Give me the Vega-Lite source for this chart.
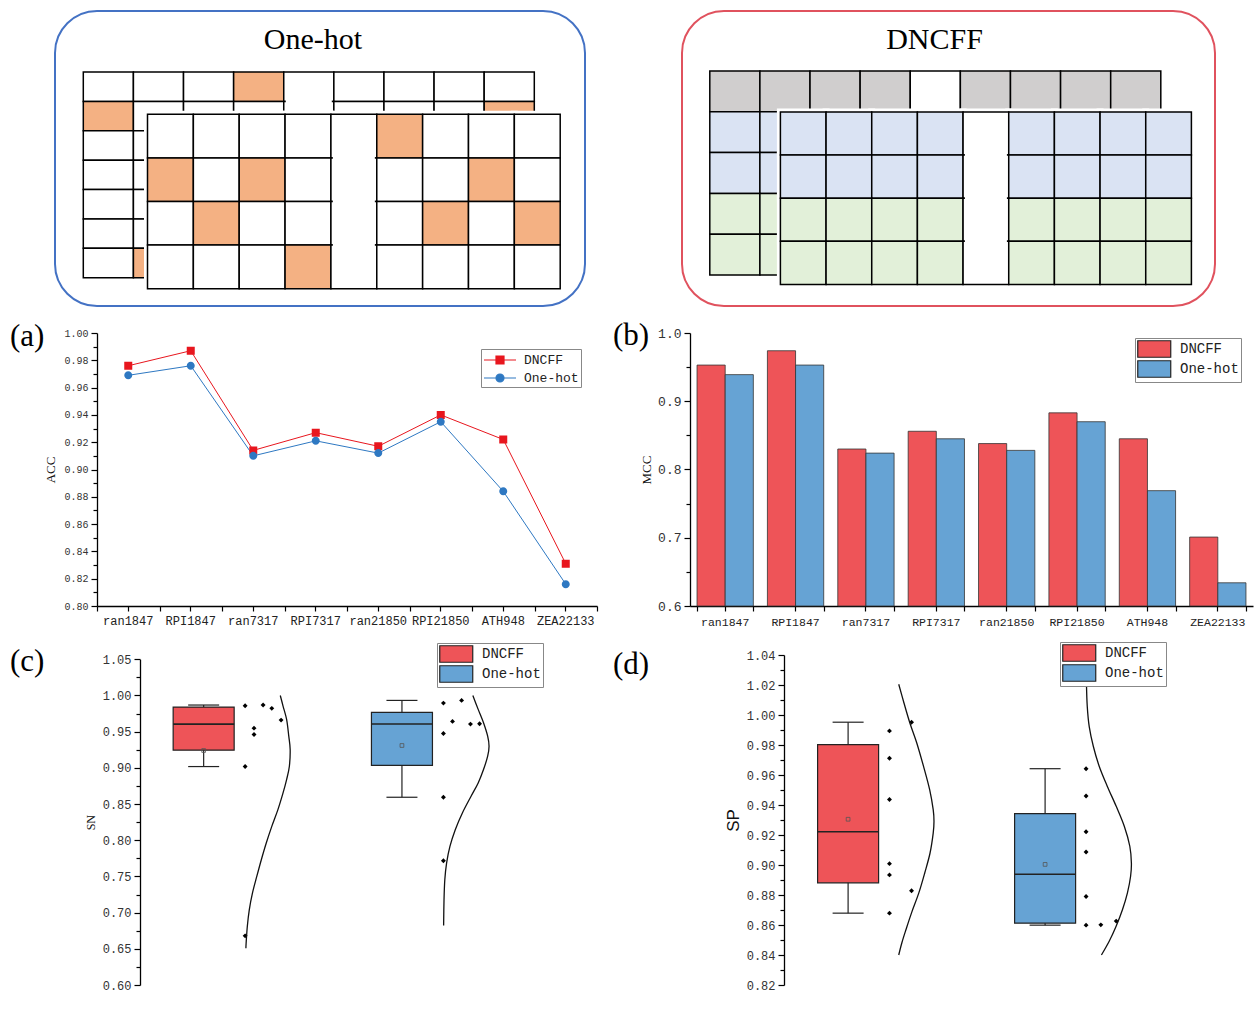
{
"$schema": "https://vega.github.io/schema/vega-lite/v6.json",
"padding": {"left": 10, "top": 10, "right": 2, "bottom": 2},
"background": "white",
"config": {
  "view": {"stroke": null},
  "font": "Liberation Serif",
  "axis": {"grid": false, "domainColor": "#000", "domainWidth": 1.3, "tickColor": "#000", "tickWidth": 1.2, "labelFont": "Liberation Mono", "labelColor": "#333", "titleFont": "Liberation Serif", "titleFontWeight": "normal", "titleColor": "#111"},
  "title": {"font": "Liberation Serif", "fontWeight": "normal", "color": "#000"}
},
"datasets": {
  "ohBack": [
    {"r":1,"c":[1,2,3,4,5,6,7,8,9],"v":["0","0","0","1","g","0","0","0","0"]},
    {"r":2,"c":[1,2,3,4,5,6,7,8,9],"v":["1","0","0","0","g","0","0","0","1"]},
    {"r":3,"c":[1,2,3,4,5,6,7,8,9],"v":["0","0","1","0","g","0","0","0","0"]},
    {"r":4,"c":[1,2,3,4,5,6,7,8,9],"v":["0","0","0","0","g","1","0","0","0"]},
    {"r":5,"c":[1,2,3,4,5,6,7,8,9],"v":["0","0","0","0","g","0","1","0","0"]},
    {"r":6,"c":[1,2,3,4,5,6,7,8,9],"v":["0","0","0","0","g","0","0","1","0"]},
    {"r":7,"c":[1,2,3,4,5,6,7,8,9],"v":["0","1","0","0","g","0","0","0","0"]}
  ],
  "ohFront": [
    {"r":1,"c":[1,2,3,4,5,6,7,8,9],"v":["0","0","0","0","g","1","0","0","0"]},
    {"r":2,"c":[1,2,3,4,5,6,7,8,9],"v":["1","0","1","0","g","0","0","1","0"]},
    {"r":3,"c":[1,2,3,4,5,6,7,8,9],"v":["0","1","0","0","g","0","1","0","1"]},
    {"r":4,"c":[1,2,3,4,5,6,7,8,9],"v":["0","0","0","1","g","0","0","0","0"]}
  ],
  "dnBack": [
    {"r":1,"c":[1,2,3,4,5,6,7,8,9],"v":["k","k","k","k","g","k","k","k","k"]},
    {"r":2,"c":[1,2,3,4,5,6,7,8,9],"v":["b","b","b","b","g","b","b","b","b"]},
    {"r":3,"c":[1,2,3,4,5,6,7,8,9],"v":["b","b","b","b","g","b","b","b","b"]},
    {"r":4,"c":[1,2,3,4,5,6,7,8,9],"v":["n","n","n","n","g","n","n","n","n"]},
    {"r":5,"c":[1,2,3,4,5,6,7,8,9],"v":["n","n","n","n","g","n","n","n","n"]}
  ],
  "dnFront": [
    {"r":1,"c":[1,2,3,4,5,6,7,8,9],"v":["b","b","b","b","g","b","b","b","b"]},
    {"r":2,"c":[1,2,3,4,5,6,7,8,9],"v":["b","b","b","b","g","b","b","b","b"]},
    {"r":3,"c":[1,2,3,4,5,6,7,8,9],"v":["n","n","n","n","g","n","n","n","n"]},
    {"r":4,"c":[1,2,3,4,5,6,7,8,9],"v":["n","n","n","n","g","n","n","n","n"]}
  ],
  "acc": [
    {"ds":"ran1847","method":"DNCFF","v":0.976},{"ds":"RPI1847","method":"DNCFF","v":0.987},{"ds":"ran7317","method":"DNCFF","v":0.914},{"ds":"RPI7317","method":"DNCFF","v":0.927},
    {"ds":"ran21850","method":"DNCFF","v":0.917},{"ds":"RPI21850","method":"DNCFF","v":0.940},{"ds":"ATH948","method":"DNCFF","v":0.922},{"ds":"ZEA22133","method":"DNCFF","v":0.831},
    {"ds":"ran1847","method":"One-hot","v":0.969},{"ds":"RPI1847","method":"One-hot","v":0.976},{"ds":"ran7317","method":"One-hot","v":0.910},{"ds":"RPI7317","method":"One-hot","v":0.921},
    {"ds":"ran21850","method":"One-hot","v":0.912},{"ds":"RPI21850","method":"One-hot","v":0.935},{"ds":"ATH948","method":"One-hot","v":0.884},{"ds":"ZEA22133","method":"One-hot","v":0.816}
  ],
  "mcc": [
    {"ds":"ran1847","method":"DNCFF","v":0.953},{"ds":"RPI1847","method":"DNCFF","v":0.974},{"ds":"ran7317","method":"DNCFF","v":0.830},{"ds":"RPI7317","method":"DNCFF","v":0.856},
    {"ds":"ran21850","method":"DNCFF","v":0.838},{"ds":"RPI21850","method":"DNCFF","v":0.883},{"ds":"ATH948","method":"DNCFF","v":0.845},{"ds":"ZEA22133","method":"DNCFF","v":0.701},
    {"ds":"ran1847","method":"One-hot","v":0.939},{"ds":"RPI1847","method":"One-hot","v":0.953},{"ds":"ran7317","method":"One-hot","v":0.824},{"ds":"RPI7317","method":"One-hot","v":0.845},
    {"ds":"ran21850","method":"One-hot","v":0.828},{"ds":"RPI21850","method":"One-hot","v":0.870},{"ds":"ATH948","method":"One-hot","v":0.769},{"ds":"ZEA22133","method":"One-hot","v":0.634}
  ],
  "box": [
    {"m":"SN","method":"DNCFF","xc":0.797,"lo":0.9018,"q1":0.9245,"med":0.9605,"q3":0.984,"hi":0.9868,"mean":0.924},
    {"m":"SN","method":"One-hot","xc":1.801,"lo":0.8594,"q1":0.9035,"med":0.9607,"q3":0.9766,"hi":0.9932,"mean":0.9309},
    {"m":"SP","method":"DNCFF","xc":0.8,"lo":0.8679,"q1":0.8881,"med":0.9222,"q3":0.9803,"hi":0.9952,"mean":0.9305},
    {"m":"SP","method":"One-hot","xc":1.8,"lo":0.8599,"q1":0.8612,"med":0.8938,"q3":0.9342,"hi":0.9642,"mean":0.9004}
  ],
  "pts": [
    {"m":"SN","method":"DNCFF","x":[1.007,1.098,1.142,1.189,1.052,1.052,1.007,1.007],"v":[0.9858,0.9868,0.9822,0.966,0.9549,0.9462,0.9018,0.6679]},
    {"m":"SN","method":"One-hot","x":[2.011,2.103,2.057,2.148,2.194,2.011,2.011,2.011],"v":[0.9895,0.9932,0.9642,0.9605,0.9609,0.9475,0.8594,0.7717]},
    {"m":"SP","method":"DNCFF","x":[1.01,1.01,1.01,1.01,1.01,1.01,1.122,1.122],"v":[0.9894,0.9712,0.9437,0.9009,0.8934,0.8679,0.9952,0.8828]},
    {"m":"SP","method":"One-hot","x":[2.008,2.008,2.008,2.008,2.008,2.008,2.083,2.161],"v":[0.9642,0.946,0.9222,0.9087,0.879,0.8599,0.8601,0.8626]}
  ],
  "crv": [
    {"m":"SN","method":"DNCFF","x":[1.185,1.199,1.217,1.228,1.235,1.231,1.217,1.199,1.173,1.142,1.114,1.089,1.066,1.044,1.028,1.018,1.012,1.011],"v":[1.0,0.9854,0.9669,0.9438,0.9254,0.9023,0.8838,0.8654,0.8423,0.8192,0.7962,0.7731,0.75,0.7269,0.7038,0.6808,0.6577,0.6508]},
    {"m":"SN","method":"One-hot","x":[2.16,2.187,2.214,2.235,2.242,2.235,2.214,2.187,2.151,2.107,2.071,2.044,2.027,2.018,2.014,2.012],"v":[1.0,0.9808,0.9623,0.9438,0.93,0.9162,0.8977,0.8792,0.8608,0.8377,0.8146,0.7915,0.7685,0.7454,0.7177,0.6822]},
    {"m":"SP","method":"DNCFF","x":[1.057,1.084,1.114,1.149,1.183,1.214,1.232,1.236,1.232,1.216,1.189,1.159,1.122,1.094,1.073,1.057],"v":[1.0205,1.0078,0.9945,0.9812,0.9657,0.9502,0.9369,0.9291,0.9213,0.908,0.8947,0.8814,0.8681,0.857,0.8482,0.84]},
    {"m":"SP","method":"One-hot","x":[2.01,2.014,2.024,2.045,2.075,2.116,2.161,2.202,2.23,2.238,2.234,2.218,2.193,2.161,2.126,2.086],"v":[1.0205,1.0057,0.9923,0.979,0.9657,0.9524,0.9391,0.9258,0.9125,0.9014,0.8925,0.8814,0.8703,0.8593,0.8493,0.84]}
  ]
},
"spacing": 12,
"resolve": {"scale": {"color": "independent", "fill": "independent", "stroke": "independent", "shape": "independent"}, "legend": {"color": "independent", "fill": "independent", "stroke": "independent", "shape": "independent"}},
"vconcat": [
 {"spacing": 95,
  "resolve": {"scale": {"color": "independent", "fill": "independent", "stroke": "independent", "shape": "independent"}, "legend": {"color": "independent", "fill": "independent", "stroke": "independent", "shape": "independent"}},
  "hconcat": [
  {
   "width": 530, "height": 295,
   "view": {"fill": "white", "stroke": "#4472C4", "strokeWidth": 2, "cornerRadius": 42},
   "title": {"text": "One-hot", "fontSize": 30, "anchor": "middle", "frame": "group", "offset": 0, "dx": -7, "dy": 44},
   "layer": [
    {"data": {"name": "ohBack"}, "transform": [{"flatten": ["c", "v"]}],
     "mark": {"type": "rect", "stroke": "#000", "strokeWidth": 1.5},
     "encoding": {
      "x": {"field": "c", "type": "ordinal", "scale": {"type": "band", "domain": [1,2,3,4,5,6,7,8,9], "range": [28.3, 479.3], "paddingInner": 0, "paddingOuter": 0}, "axis": null},
      "y": {"field": "r", "type": "ordinal", "scale": {"type": "band", "domain": [1,2,3,4,5,6,7], "range": [61, 266.7], "paddingInner": 0, "paddingOuter": 0}, "axis": null},
      "fill": {"field": "v", "type": "nominal", "scale": {"domain": ["0","1","g"], "range": ["#ffffff","#F4B183","#ffffff"]}, "legend": null}}},
    {"data": {"name": "ohBack"}, "transform": [{"flatten": ["c", "v"]}, {"filter": "datum.v === 'g' && datum.r > 1"}],
     "mark": {"type": "point", "shape": "square", "filled": true, "color": "#ffffff", "strokeWidth": 0, "size": 2116, "opacity": 1},
     "encoding": {
      "x": {"field": "c", "type": "ordinal", "scale": {"type": "band", "domain": [1,2,3,4,5,6,7,8,9], "range": [28.3, 479.3], "paddingInner": 0, "paddingOuter": 0}, "axis": null},
      "y": {"field": "r", "type": "ordinal", "bandPosition": 0, "scale": {"type": "band", "domain": [1,2,3,4,5,6,7], "range": [61, 266.7], "paddingInner": 0, "paddingOuter": 0}, "axis": null}}},
    {"data": {"name": "ohFront"}, "transform": [{"flatten": ["c", "v"]}],
     "mark": {"type": "rect", "fill": "#ffffff", "stroke": "#ffffff", "strokeWidth": 7},
     "encoding": {
      "x": {"field": "c", "type": "ordinal", "scale": {"type": "band", "domain": [1,2,3,4,5,6,7,8,9], "range": [92.5, 505.2], "paddingInner": 0, "paddingOuter": 0}, "axis": null},
      "y": {"field": "r", "type": "ordinal", "scale": {"type": "band", "domain": [1,2,3,4], "range": [103.3, 277.7], "paddingInner": 0, "paddingOuter": 0}, "axis": null}}},
    {"data": {"name": "ohFront"}, "transform": [{"flatten": ["c", "v"]}],
     "mark": {"type": "rect", "stroke": "#000", "strokeWidth": 1.5},
     "encoding": {
      "x": {"field": "c", "type": "ordinal", "scale": {"type": "band", "domain": [1,2,3,4,5,6,7,8,9], "range": [92.5, 505.2], "paddingInner": 0, "paddingOuter": 0}, "axis": null},
      "y": {"field": "r", "type": "ordinal", "scale": {"type": "band", "domain": [1,2,3,4], "range": [103.3, 277.7], "paddingInner": 0, "paddingOuter": 0}, "axis": null},
      "fill": {"field": "v", "type": "nominal", "scale": {"domain": ["0","1","g"], "range": ["#ffffff","#F4B183","#ffffff"]}, "legend": null}}},
    {"data": {"name": "ohFront"}, "transform": [{"flatten": ["c", "v"]}, {"filter": "datum.v === 'g' && datum.r > 1"}],
     "mark": {"type": "point", "shape": "square", "filled": true, "color": "#ffffff", "strokeWidth": 0, "size": 1764, "opacity": 1},
     "encoding": {
      "x": {"field": "c", "type": "ordinal", "scale": {"type": "band", "domain": [1,2,3,4,5,6,7,8,9], "range": [92.5, 505.2], "paddingInner": 0, "paddingOuter": 0}, "axis": null},
      "y": {"field": "r", "type": "ordinal", "bandPosition": 0, "scale": {"type": "band", "domain": [1,2,3,4], "range": [103.3, 277.7], "paddingInner": 0, "paddingOuter": 0}, "axis": null}}}
   ],
   "resolve": {"scale": {"x": "independent", "y": "independent"}}
  },
  {
   "width": 533, "height": 295,
   "view": {"fill": "white", "stroke": "#E0525E", "strokeWidth": 2, "cornerRadius": 42},
   "title": {"text": "DNCFF", "fontSize": 30, "anchor": "middle", "frame": "group", "offset": 0, "dx": -14, "dy": 44},
   "layer": [
    {"data": {"name": "dnBack"}, "transform": [{"flatten": ["c", "v"]}],
     "mark": {"type": "rect", "stroke": "#000", "strokeWidth": 1.5},
     "encoding": {
      "x": {"field": "c", "type": "ordinal", "scale": {"type": "band", "domain": [1,2,3,4,5,6,7,8,9], "range": [27.8, 478.8], "paddingInner": 0, "paddingOuter": 0}, "axis": null},
      "y": {"field": "r", "type": "ordinal", "scale": {"type": "band", "domain": [1,2,3,4,5], "range": [60, 264], "paddingInner": 0, "paddingOuter": 0}, "axis": null},
      "fill": {"field": "v", "type": "nominal", "scale": {"domain": ["k","b","n","g"], "range": ["#D0CECE","#DAE3F3","#E2F0D9","#ffffff"]}, "legend": null}}},
    {"data": {"name": "dnBack"}, "transform": [{"flatten": ["c", "v"]}, {"filter": "datum.v === 'g' && datum.r > 1"}],
     "mark": {"type": "point", "shape": "square", "filled": true, "color": "#ffffff", "strokeWidth": 0, "size": 2116, "opacity": 1},
     "encoding": {
      "x": {"field": "c", "type": "ordinal", "scale": {"type": "band", "domain": [1,2,3,4,5,6,7,8,9], "range": [27.8, 478.8], "paddingInner": 0, "paddingOuter": 0}, "axis": null},
      "y": {"field": "r", "type": "ordinal", "bandPosition": 0, "scale": {"type": "band", "domain": [1,2,3,4,5], "range": [60, 264], "paddingInner": 0, "paddingOuter": 0}, "axis": null}}},
    {"data": {"name": "dnFront"}, "transform": [{"flatten": ["c", "v"]}],
     "mark": {"type": "rect", "fill": "#ffffff", "stroke": "#ffffff", "strokeWidth": 7},
     "encoding": {
      "x": {"field": "c", "type": "ordinal", "scale": {"type": "band", "domain": [1,2,3,4,5,6,7,8,9], "range": [98.4, 509.4], "paddingInner": 0, "paddingOuter": 0}, "axis": null},
      "y": {"field": "r", "type": "ordinal", "scale": {"type": "band", "domain": [1,2,3,4], "range": [101, 273.4], "paddingInner": 0, "paddingOuter": 0}, "axis": null}}},
    {"data": {"name": "dnFront"}, "transform": [{"flatten": ["c", "v"]}],
     "mark": {"type": "rect", "stroke": "#000", "strokeWidth": 1.5},
     "encoding": {
      "x": {"field": "c", "type": "ordinal", "scale": {"type": "band", "domain": [1,2,3,4,5,6,7,8,9], "range": [98.4, 509.4], "paddingInner": 0, "paddingOuter": 0}, "axis": null},
      "y": {"field": "r", "type": "ordinal", "scale": {"type": "band", "domain": [1,2,3,4], "range": [101, 273.4], "paddingInner": 0, "paddingOuter": 0}, "axis": null},
      "fill": {"field": "v", "type": "nominal", "scale": {"domain": ["k","b","n","g"], "range": ["#D0CECE","#DAE3F3","#E2F0D9","#ffffff"]}, "legend": null}}},
    {"data": {"name": "dnFront"}, "transform": [{"flatten": ["c", "v"]}, {"filter": "datum.v === 'g' && datum.r > 1"}],
     "mark": {"type": "point", "shape": "square", "filled": true, "color": "#ffffff", "strokeWidth": 0, "size": 1764, "opacity": 1},
     "encoding": {
      "x": {"field": "c", "type": "ordinal", "scale": {"type": "band", "domain": [1,2,3,4,5,6,7,8,9], "range": [98.4, 509.4], "paddingInner": 0, "paddingOuter": 0}, "axis": null},
      "y": {"field": "r", "type": "ordinal", "bandPosition": 0, "scale": {"type": "band", "domain": [1,2,3,4], "range": [101, 273.4], "paddingInner": 0, "paddingOuter": 0}, "axis": null}}}
   ],
   "resolve": {"scale": {"x": "independent", "y": "independent"}}
  }
 ]},
 {"spacing": 13,
  "resolve": {"scale": {"color": "independent", "fill": "independent", "stroke": "independent", "shape": "independent"}, "legend": {"color": "independent", "fill": "independent", "stroke": "independent", "shape": "independent"}},
  "vconcat": [
  {"spacing": 15,
   "resolve": {"scale": {"color": "independent", "fill": "independent", "stroke": "independent", "shape": "independent"}, "legend": {"color": "independent", "fill": "independent", "stroke": "independent", "shape": "independent"}},
   "hconcat": [
   {
    "width": 542, "height": 273,
    "title": {"text": "(a)", "fontSize": 31, "anchor": "start", "frame": "group", "offset": 0, "dx": -45, "dy": 24.5},
    "data": {"name": "acc"},
    "layer": [
     {"mark": {"type": "line", "strokeWidth": 1},
      "encoding": {
       "x": {"field": "ds", "type": "nominal", "sort": ["ran1847","RPI1847","ran7317","RPI7317","ran21850","RPI21850","ATH948","ZEA22133"], "scale": {"type": "band", "range": [42, 542], "paddingInner": 0, "paddingOuter": 0},
             "axis": {"orient": "bottom", "tickBand": "center", "labelFontSize": 12, "labelPadding": 4, "tickSize": 5, "title": null, "labelAngle": 0, "labelOverlap": false, "labelColor": "#222"}},
       "y": {"field": "v", "type": "quantitative", "scale": {"domain": [0.8, 1.0], "zero": false, "nice": false},
             "axis": {"orient": "left", "offset": -42, "values": [0.8,0.82,0.84,0.86,0.88,0.9,0.92,0.94,0.96,0.98,1.0], "format": ".2f", "labelFontSize": 10, "tickSize": 6, "labelPadding": 3, "title": "ACC", "titleFontSize": 13, "titlePadding": 6}},
       "color": {"field": "method", "type": "nominal", "scale": {"domain": ["DNCFF","One-hot"], "range": ["#E8161E","#2E78C2"]},
                 "legend": {"orient": "none", "legendX": 426, "legendY": 16, "title": null, "labelFont": "Liberation Mono", "labelFontSize": 13, "labelColor": "#222", "strokeColor": "#888", "fillColor": "#fff", "padding": 2, "symbolSize": 256, "symbolOpacity": 1, "symbolOffset": 8, "labelOffset": 15, "rowPadding": 2,
                            "encode": {"symbols": {"update": {"stroke": {"signal": "datum.value === 'DNCFF' ? '#E8161E' : '#2E78C2'"}, "fill": {"signal": "datum.value === 'DNCFF' ? '#E8161E' : '#2E78C2'"}, "strokeWidth": {"value": 1.2}, "opacity": {"value": 1}}}}}}}},
     {"mark": {"type": "point", "filled": true, "opacity": 1, "size": 256},
      "encoding": {
       "x": {"field": "ds", "type": "nominal", "sort": ["ran1847","RPI1847","ran7317","RPI7317","ran21850","RPI21850","ATH948","ZEA22133"], "scale": {"type": "band", "range": [42, 542], "paddingInner": 0, "paddingOuter": 0}, "axis": null},
       "y": {"field": "v", "type": "quantitative", "scale": {"domain": [0.8, 1.0], "zero": false, "nice": false}, "axis": null},
       "color": {"field": "method", "type": "nominal", "scale": {"domain": ["DNCFF","One-hot"], "range": ["#E8161E","#2E78C2"]},
                 "legend": {"orient": "none", "legendX": 426, "legendY": 16, "title": null, "labelFont": "Liberation Mono", "labelFontSize": 13, "labelColor": "#222", "strokeColor": "#888", "fillColor": "#fff", "padding": 2, "symbolSize": 256, "symbolOpacity": 1, "symbolOffset": 8, "labelOffset": 15, "rowPadding": 2,
                            "encode": {"symbols": {"update": {"stroke": {"signal": "datum.value === 'DNCFF' ? '#E8161E' : '#2E78C2'"}, "fill": {"signal": "datum.value === 'DNCFF' ? '#E8161E' : '#2E78C2'"}, "strokeWidth": {"value": 1.2}, "opacity": {"value": 1}}}}}},
       "shape": {"field": "method", "type": "nominal", "scale": {"domain": ["DNCFF","One-hot"], "range": ["M-2,0H2M-0.5,-0.5H0.5V0.5H-0.5Z", "M-2,0H2M0.5,0A0.5,0.5,0,1,1,-0.5,0A0.5,0.5,0,1,1,0.5,0Z"]},
                 "legend": {"orient": "none", "legendX": 426, "legendY": 16, "title": null, "labelFont": "Liberation Mono", "labelFontSize": 13, "labelColor": "#222", "strokeColor": "#888", "fillColor": "#fff", "padding": 2, "symbolSize": 256, "symbolOpacity": 1, "symbolOffset": 8, "labelOffset": 15, "rowPadding": 2,
                            "encode": {"symbols": {"update": {"stroke": {"signal": "datum.value === 'DNCFF' ? '#E8161E' : '#2E78C2'"}, "fill": {"signal": "datum.value === 'DNCFF' ? '#E8161E' : '#2E78C2'"}, "strokeWidth": {"value": 1.2}, "opacity": {"value": 1}}}}}}}},
     {"mark": {"type": "point", "opacity": 0},
      "encoding": {
       "x": {"field": "ds", "type": "nominal", "sort": ["ran1847","RPI1847","ran7317","RPI7317","ran21850","RPI21850","ATH948","ZEA22133"], "scale": {"type": "band", "range": [42, 542], "paddingInner": 0, "paddingOuter": 0},
             "axis": {"orient": "bottom", "tickBand": "extent", "labels": false, "domain": false, "tickSize": 5, "title": null}},
       "y": {"field": "v", "type": "quantitative", "scale": {"domain": [0.8, 1.0], "zero": false, "nice": false},
             "axis": {"orient": "left", "offset": -42, "values": [0.81,0.83,0.85,0.87,0.89,0.91,0.93,0.95,0.97,0.99], "labels": false, "domain": false, "tickSize": 4, "title": null}}}}
    ],
    "resolve": {"axis": {"x": "independent", "y": "independent"}}
   },
   {
    "width": 563, "height": 273,
    "title": {"text": "(b)", "fontSize": 31, "anchor": "start", "frame": "group", "offset": 0, "dx": -77, "dy": 24.5},
    "data": {"name": "mcc"},
    "layer": [
     {"mark": {"type": "bar", "stroke": "#333", "strokeWidth": 0.8},
      "encoding": {
       "x": {"field": "ds", "type": "nominal", "sort": ["ran1847","RPI1847","ran7317","RPI7317","ran21850","RPI21850","ATH948","ZEA22133"], "scale": {"type": "band", "paddingInner": 0.2, "paddingOuter": 0.1},
             "axis": {"orient": "bottom", "tickBand": "center", "labelFontSize": 11.5, "labelPadding": 5, "tickSize": 5, "title": null, "labelAngle": 0, "labelOverlap": false, "labelColor": "#222"}},
       "xOffset": {"field": "method", "type": "nominal", "sort": ["DNCFF","One-hot"]},
       "y": {"field": "v", "type": "quantitative", "scale": {"domain": [0.6, 1.0], "zero": false, "nice": false},
             "axis": {"orient": "left", "values": [0.6,0.7,0.8,0.9,1.0], "format": ".1f", "labelFontSize": 13, "tickSize": 6, "labelPadding": 3, "title": "MCC", "titleFontSize": 13, "titlePadding": 4}},
       "y2": {"datum": 0.6},
       "color": {"field": "method", "type": "nominal", "scale": {"domain": ["DNCFF","One-hot"], "range": ["#EE5458","#66A3D4"]},
                 "legend": {"orient": "none", "legendX": 445, "legendY": 5, "title": null, "labelFont": "Liberation Mono", "labelFontSize": 14, "labelColor": "#222", "strokeColor": "#888", "fillColor": "#fff", "padding": 2, "symbolType": "M-2,-1H2V1H-2Z", "symbolSize": 272, "symbolStrokeColor": "#222", "symbolStrokeWidth": 1.2, "symbolOpacity": 1, "symbolOffset": 8.25, "labelOffset": 16.75, "rowPadding": -6}}}},
     {"mark": {"type": "point", "opacity": 0},
      "encoding": {
       "x": {"field": "ds", "type": "nominal", "sort": ["ran1847","RPI1847","ran7317","RPI7317","ran21850","RPI21850","ATH948","ZEA22133"], "scale": {"type": "band", "paddingInner": 0.2, "paddingOuter": 0.1},
             "axis": {"orient": "bottom", "tickBand": "extent", "labels": false, "domain": false, "tickSize": 5, "title": null}},
       "y": {"field": "v", "type": "quantitative", "scale": {"domain": [0.6, 1.0], "zero": false, "nice": false},
             "axis": {"orient": "left", "values": [0.65,0.75,0.85,0.95], "labels": false, "domain": false, "tickSize": 4, "title": null}}}}
    ],
    "resolve": {"axis": {"x": "independent", "y": "independent"}}
   }
  ]},
  {"spacing": 68,
   "resolve": {"scale": {"color": "independent", "fill": "independent", "stroke": "independent", "shape": "independent"}, "legend": {"color": "independent", "fill": "independent", "stroke": "independent", "shape": "independent"}},
   "hconcat": [
   {
    "width": 490, "height": 330,
    "title": {"text": "(c)", "fontSize": 31, "anchor": "start", "frame": "group", "offset": 0, "dx": -45, "dy": 35},
    "layer": [
     {"data": {"name": "box"}, "transform": [{"filter": "datum.m === 'SN'"}],
      "mark": {"type": "bar", "width": 61, "stroke": "#222", "strokeWidth": 1.2},
      "encoding": {
       "x": {"field": "xc", "type": "quantitative", "scale": {"domain": [0.5, 2.5], "range": [85, 490], "zero": false, "nice": false},
             "axis": {"values": [1, 2], "labelExpr": "datum.value == 1 ? 'DNCFF' : 'One-hot'", "labelFontSize": 15, "tickSize": 5, "labelPadding": 6, "title": null, "labelColor": "#222"}},
       "y": {"field": "q1", "type": "quantitative", "scale": {"domain": [0.6, 1.05], "range": [330, 4.3], "zero": false, "nice": false},
             "axis": {"orient": "left", "offset": -85, "values": [0.6,0.65,0.7,0.75,0.8,0.85,0.9,0.95,1.0,1.05], "format": ".2f", "labelFontSize": 12, "tickSize": 6, "labelPadding": 3, "title": "SN", "titleFontSize": 12, "titlePadding": 5}},
       "y2": {"field": "q3"},
       "color": {"field": "method", "type": "nominal", "scale": {"domain": ["DNCFF","One-hot"], "range": ["#EE5458","#66A3D4"]},
                 "legend": {"orient": "none", "legendX": 382, "legendY": -12, "title": null, "labelFont": "Liberation Mono", "labelFontSize": 14, "labelColor": "#222", "strokeColor": "#888", "fillColor": "#fff", "padding": 2, "symbolType": "M-2,-1H2V1H-2Z", "symbolSize": 272, "symbolStrokeColor": "#222", "symbolStrokeWidth": 1.2, "symbolOpacity": 1, "symbolOffset": 8.25, "labelOffset": 16.75, "rowPadding": -6}}}},
     {"data": {"name": "box"}, "transform": [{"filter": "datum.m === 'SN'"}],
      "mark": {"type": "rule", "color": "#222", "strokeWidth": 1.2},
      "encoding": {
       "x": {"field": "xc", "type": "quantitative", "scale": {"domain": [0.5, 2.5], "range": [85, 490], "zero": false, "nice": false}, "axis": null},
       "y": {"field": "lo", "type": "quantitative", "scale": {"domain": [0.6, 1.05], "range": [330, 4.3], "zero": false, "nice": false}, "axis": null},
       "y2": {"field": "q1"}}},
     {"data": {"name": "box"}, "transform": [{"filter": "datum.m === 'SN'"}],
      "mark": {"type": "rule", "color": "#222", "strokeWidth": 1.2},
      "encoding": {
       "x": {"field": "xc", "type": "quantitative", "scale": {"domain": [0.5, 2.5], "range": [85, 490], "zero": false, "nice": false}, "axis": null},
       "y": {"field": "q3", "type": "quantitative", "scale": {"domain": [0.6, 1.05], "range": [330, 4.3], "zero": false, "nice": false}, "axis": null},
       "y2": {"field": "hi"}}},
     {"data": {"name": "box"}, "transform": [{"filter": "datum.m === 'SN'"}],
      "mark": {"type": "tick", "orient": "horizontal", "size": 31, "thickness": 1.2, "color": "#222", "opacity": 1},
      "encoding": {
       "x": {"field": "xc", "type": "quantitative", "scale": {"domain": [0.5, 2.5], "range": [85, 490], "zero": false, "nice": false}, "axis": null},
       "y": {"field": "lo", "type": "quantitative", "scale": {"domain": [0.6, 1.05], "range": [330, 4.3], "zero": false, "nice": false}, "axis": null}}},
     {"data": {"name": "box"}, "transform": [{"filter": "datum.m === 'SN'"}],
      "mark": {"type": "tick", "orient": "horizontal", "size": 31, "thickness": 1.2, "color": "#222", "opacity": 1},
      "encoding": {
       "x": {"field": "xc", "type": "quantitative", "scale": {"domain": [0.5, 2.5], "range": [85, 490], "zero": false, "nice": false}, "axis": null},
       "y": {"field": "hi", "type": "quantitative", "scale": {"domain": [0.6, 1.05], "range": [330, 4.3], "zero": false, "nice": false}, "axis": null}}},
     {"data": {"name": "box"}, "transform": [{"filter": "datum.m === 'SN'"}],
      "mark": {"type": "tick", "orient": "horizontal", "size": 61, "thickness": 1.6, "color": "#222", "opacity": 1},
      "encoding": {
       "x": {"field": "xc", "type": "quantitative", "scale": {"domain": [0.5, 2.5], "range": [85, 490], "zero": false, "nice": false}, "axis": null},
       "y": {"field": "med", "type": "quantitative", "scale": {"domain": [0.6, 1.05], "range": [330, 4.3], "zero": false, "nice": false}, "axis": null}}},
     {"data": {"name": "box"}, "transform": [{"filter": "datum.m === 'SN'"}],
      "mark": {"type": "point", "shape": "square", "size": 14, "filled": false, "stroke": "#555", "strokeWidth": 0.8, "opacity": 1},
      "encoding": {
       "x": {"field": "xc", "type": "quantitative", "scale": {"domain": [0.5, 2.5], "range": [85, 490], "zero": false, "nice": false}, "axis": null},
       "y": {"field": "mean", "type": "quantitative", "scale": {"domain": [0.6, 1.05], "range": [330, 4.3], "zero": false, "nice": false}, "axis": null}}},
     {"data": {"name": "pts"}, "transform": [{"filter": "datum.m === 'SN'"}, {"flatten": ["x", "v"]}],
      "mark": {"type": "point", "shape": "diamond", "size": 24, "filled": true, "color": "#000", "opacity": 1},
      "encoding": {
       "x": {"field": "x", "type": "quantitative", "scale": {"domain": [0.5, 2.5], "range": [85, 490], "zero": false, "nice": false}, "axis": null},
       "y": {"field": "v", "type": "quantitative", "scale": {"domain": [0.6, 1.05], "range": [330, 4.3], "zero": false, "nice": false}, "axis": null}}},
     {"data": {"name": "crv"}, "transform": [{"filter": "datum.m === 'SN'"}, {"flatten": ["x", "v"]}],
      "mark": {"type": "line", "color": "#111", "strokeWidth": 1.3, "interpolate": "cardinal"},
      "encoding": {
       "x": {"field": "x", "type": "quantitative", "scale": {"domain": [0.5, 2.5], "range": [85, 490], "zero": false, "nice": false}, "axis": null},
       "y": {"field": "v", "type": "quantitative", "scale": {"domain": [0.6, 1.05], "range": [330, 4.3], "zero": false, "nice": false}, "axis": null},
       "detail": {"field": "method", "type": "nominal"},
       "order": {"field": "v", "type": "quantitative"}}},
     {"data": {"name": "box"}, "transform": [{"filter": "datum.m === 'SN'"}],
      "mark": {"type": "point", "opacity": 0},
      "encoding": {
       "x": {"field": "xc", "type": "quantitative", "scale": {"domain": [0.5, 2.5], "range": [85, 490], "zero": false, "nice": false}, "axis": null},
       "y": {"field": "q1", "type": "quantitative", "scale": {"domain": [0.6, 1.05], "range": [330, 4.3], "zero": false, "nice": false},
             "axis": {"orient": "left", "offset": -85, "values": [0.625,0.675,0.725,0.775,0.825,0.875,0.925,0.975,1.025], "labels": false, "domain": false, "tickSize": 4, "title": null}}}}
    ],
    "resolve": {"axis": {"y": "independent"}}
   },
   {
    "width": 404, "height": 330,
    "title": {"text": "(d)", "fontSize": 31, "anchor": "start", "frame": "group", "offset": 0, "dx": -171, "dy": 39},
    "layer": [
     {"data": {"name": "box"}, "transform": [{"filter": "datum.m === 'SP'"}],
      "mark": {"type": "bar", "width": 61, "stroke": "#222", "strokeWidth": 1.2},
      "encoding": {
       "x": {"field": "xc", "type": "quantitative", "scale": {"domain": [0.5, 2.5], "zero": false, "nice": false},
             "axis": {"values": [1, 2], "labelExpr": "datum.value == 1 ? 'DNCFF' : 'One-hot'", "labelFontSize": 15, "tickSize": 5, "labelPadding": 6, "title": null, "labelColor": "#222"}},
       "y": {"field": "q1", "type": "quantitative", "scale": {"domain": [0.82, 1.04], "zero": false, "nice": false},
             "axis": {"orient": "left", "values": [0.82,0.84,0.86,0.88,0.9,0.92,0.94,0.96,0.98,1.0,1.02,1.04], "format": ".2f", "labelFontSize": 12, "tickSize": 6, "labelPadding": 3, "title": "SP", "titleFont": "Liberation Sans", "titleFontSize": 17, "titlePadding": 4}},
       "y2": {"field": "q3"},
       "color": {"field": "method", "type": "nominal", "scale": {"domain": ["DNCFF","One-hot"], "range": ["#EE5458","#66A3D4"]},
                 "legend": {"orient": "none", "legendX": 276, "legendY": -13, "title": null, "labelFont": "Liberation Mono", "labelFontSize": 14, "labelColor": "#222", "strokeColor": "#888", "fillColor": "#fff", "padding": 2, "symbolType": "M-2,-1H2V1H-2Z", "symbolSize": 272, "symbolStrokeColor": "#222", "symbolStrokeWidth": 1.2, "symbolOpacity": 1, "symbolOffset": 8.25, "labelOffset": 16.75, "rowPadding": -6}}}},
     {"data": {"name": "box"}, "transform": [{"filter": "datum.m === 'SP'"}],
      "mark": {"type": "rule", "color": "#222", "strokeWidth": 1.2},
      "encoding": {
       "x": {"field": "xc", "type": "quantitative", "scale": {"domain": [0.5, 2.5], "zero": false, "nice": false}, "axis": null},
       "y": {"field": "lo", "type": "quantitative", "scale": {"domain": [0.82, 1.04], "zero": false, "nice": false}, "axis": null},
       "y2": {"field": "q1"}}},
     {"data": {"name": "box"}, "transform": [{"filter": "datum.m === 'SP'"}],
      "mark": {"type": "rule", "color": "#222", "strokeWidth": 1.2},
      "encoding": {
       "x": {"field": "xc", "type": "quantitative", "scale": {"domain": [0.5, 2.5], "zero": false, "nice": false}, "axis": null},
       "y": {"field": "q3", "type": "quantitative", "scale": {"domain": [0.82, 1.04], "zero": false, "nice": false}, "axis": null},
       "y2": {"field": "hi"}}},
     {"data": {"name": "box"}, "transform": [{"filter": "datum.m === 'SP'"}],
      "mark": {"type": "tick", "orient": "horizontal", "size": 31, "thickness": 1.2, "color": "#222", "opacity": 1},
      "encoding": {
       "x": {"field": "xc", "type": "quantitative", "scale": {"domain": [0.5, 2.5], "zero": false, "nice": false}, "axis": null},
       "y": {"field": "lo", "type": "quantitative", "scale": {"domain": [0.82, 1.04], "zero": false, "nice": false}, "axis": null}}},
     {"data": {"name": "box"}, "transform": [{"filter": "datum.m === 'SP'"}],
      "mark": {"type": "tick", "orient": "horizontal", "size": 31, "thickness": 1.2, "color": "#222", "opacity": 1},
      "encoding": {
       "x": {"field": "xc", "type": "quantitative", "scale": {"domain": [0.5, 2.5], "zero": false, "nice": false}, "axis": null},
       "y": {"field": "hi", "type": "quantitative", "scale": {"domain": [0.82, 1.04], "zero": false, "nice": false}, "axis": null}}},
     {"data": {"name": "box"}, "transform": [{"filter": "datum.m === 'SP'"}],
      "mark": {"type": "tick", "orient": "horizontal", "size": 61, "thickness": 1.6, "color": "#222", "opacity": 1},
      "encoding": {
       "x": {"field": "xc", "type": "quantitative", "scale": {"domain": [0.5, 2.5], "zero": false, "nice": false}, "axis": null},
       "y": {"field": "med", "type": "quantitative", "scale": {"domain": [0.82, 1.04], "zero": false, "nice": false}, "axis": null}}},
     {"data": {"name": "box"}, "transform": [{"filter": "datum.m === 'SP'"}],
      "mark": {"type": "point", "shape": "square", "size": 14, "filled": false, "stroke": "#555", "strokeWidth": 0.8, "opacity": 1},
      "encoding": {
       "x": {"field": "xc", "type": "quantitative", "scale": {"domain": [0.5, 2.5], "zero": false, "nice": false}, "axis": null},
       "y": {"field": "mean", "type": "quantitative", "scale": {"domain": [0.82, 1.04], "zero": false, "nice": false}, "axis": null}}},
     {"data": {"name": "pts"}, "transform": [{"filter": "datum.m === 'SP'"}, {"flatten": ["x", "v"]}],
      "mark": {"type": "point", "shape": "diamond", "size": 24, "filled": true, "color": "#000", "opacity": 1},
      "encoding": {
       "x": {"field": "x", "type": "quantitative", "scale": {"domain": [0.5, 2.5], "zero": false, "nice": false}, "axis": null},
       "y": {"field": "v", "type": "quantitative", "scale": {"domain": [0.82, 1.04], "zero": false, "nice": false}, "axis": null}}},
     {"data": {"name": "crv"}, "transform": [{"filter": "datum.m === 'SP'"}, {"flatten": ["x", "v"]}],
      "mark": {"type": "line", "color": "#111", "strokeWidth": 1.3, "interpolate": "cardinal"},
      "encoding": {
       "x": {"field": "x", "type": "quantitative", "scale": {"domain": [0.5, 2.5], "zero": false, "nice": false}, "axis": null},
       "y": {"field": "v", "type": "quantitative", "scale": {"domain": [0.82, 1.04], "zero": false, "nice": false}, "axis": null},
       "detail": {"field": "method", "type": "nominal"},
       "order": {"field": "v", "type": "quantitative"}}},
     {"data": {"name": "box"}, "transform": [{"filter": "datum.m === 'SP'"}],
      "mark": {"type": "point", "opacity": 0},
      "encoding": {
       "x": {"field": "xc", "type": "quantitative", "scale": {"domain": [0.5, 2.5], "zero": false, "nice": false}, "axis": null},
       "y": {"field": "q1", "type": "quantitative", "scale": {"domain": [0.82, 1.04], "zero": false, "nice": false},
             "axis": {"orient": "left", "values": [0.83,0.85,0.87,0.89,0.91,0.93,0.95,0.97,0.99,1.01,1.03], "labels": false, "domain": false, "tickSize": 4, "title": null}}}}
    ],
    "resolve": {"axis": {"y": "independent"}}
   }
  ]}
 ]}
]
}
